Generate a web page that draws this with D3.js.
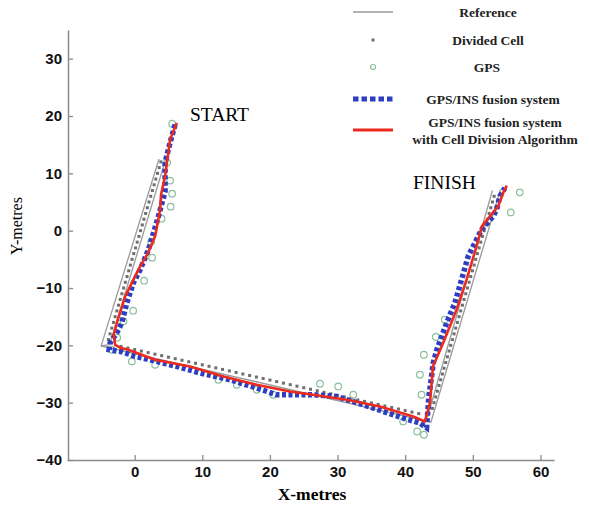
<!DOCTYPE html>
<html><head><meta charset="utf-8">
<script src="https://cdn.jsdelivr.net/npm/d3@7"></script>
<style>
body{margin:0;background:#fff;}
svg{display:block;}
</style></head>
<body>
<svg id="chart" width="589" height="506"></svg>
<script>
// ---- data ----
const xTicks = [0, 10, 20, 30, 40, 50, 60];
const yTicks = [-40, -30, -20, -10, 0, 10, 20, 30];

// Reference (gray band outlines)
const refOuterX = [3.6, -4.95, 43.8, 54.1];
const refOuterY = [12.5, -20.1, -33.4, 7.2];
const refInnerStartX = [4.6, -3.7, -4.95];
const refInnerStartY = [12.5, -19.9, -20.1];
const refInnerFinishX = [43.3, 52.9];
const refInnerFinishY = [-32.5, 7.0];

// Divided cells
const cellX = [-3.88,-3.63,-3.38,-3.13,-2.88,-2.63,-2.38,-2.13,-1.88,-1.63,-1.38,-1.13,-0.88,-0.63,-0.38,-0.13,0.13,0.38,0.63,0.88,1.13,1.38,1.63,1.88,2.13,2.38,2.63,2.88,3.13,3.38,3.63,3.88,
  -2,-1,0,1,2,3,4,5,6,7,8,9,10,11,12,13,14,15,16,17,18,19,20,21,22,23,24,25,26,27,28,29,30,31,32,33,34,35,36,37,38,39,40,41,42,
  44.02,44.26,44.51,44.76,45.0,45.25,45.5,45.74,45.99,46.24,46.49,46.73,46.98,47.22,47.47,47.72,47.96,48.21,48.46,48.7,48.95,49.2,49.45,49.69,49.94,50.19,50.43,50.68,50.93,51.17,51.42,51.67,51.91,52.16,52.41,52.66,52.9,53.15];
const cellY = [-19,-18,-17,-16,-15,-14,-13,-12,-11,-10,-9,-8,-7,-6,-5,-4,-3,-2,-1,0,1,2,3,4,5,6,7,8,9,10,11,12,
  -20.2,-20.47,-20.74,-21.0,-21.27,-21.54,-21.8,-22.07,-22.33,-22.6,-22.87,-23.13,-23.4,-23.66,-23.93,-24.2,-24.46,-24.73,-25.0,-25.26,-25.53,-25.79,-26.06,-26.33,-26.59,-26.86,-27.12,-27.39,-27.66,-27.92,-28.19,-28.45,-28.72,-28.99,-29.25,-29.52,-29.78,-30.05,-30.32,-30.58,-30.85,-31.11,-31.38,-31.65,-31.91,
  -31,-30,-29,-28,-27,-26,-25,-24,-23,-22,-21,-20,-19,-18,-17,-16,-15,-14,-13,-12,-11,-10,-9,-8,-7,-6,-5,-4,-3,-2,-1,0,1,2,3,4,5,6];

// GPS
const gpsX = [5.54,4.8,5.24,5.54,5.32,3.99,2.44,2.58,1.4,-0.22,-1.65,-2.58,-3.37,-0.41,3.03,12.38,15.1,18.05,20.5,27.4,30.1,32.32,39.7,42.17,42.42,41.77,42.76,42.76,44.53,45.86,55.61,56.94];
const gpsY = [18.67,11.87,8.73,6.46,4.19,2.09,-1.92,-4.71,-8.73,-13.96,-15.8,-18.67,-20.77,-22.8,-23.39,-26.0,-26.88,-27.75,-28.62,-26.7,-27.17,-28.62,-33.28,-25.13,-28.62,-35.03,-35.6,-21.64,-18.55,-15.53,3.19,6.68];

// GPS/INS fusion system
const insX = [5.98,5.24,4.5,4.5,3.52,2.04,0.81,-0.18,-1.15,-1.89,-2.63,-3.62,-3.77,-1.89,-0.18,3.28,6.23,9.67,14.1,18.05,21.0,26.41,29.87,33.8,39.7,42.17,43.16,43.5,43.9,44.14,44.68,46.12,47.34,48.33,49.31,50.04,51.29,53.0,53.5,54.0,54.74];
const insY = [18.5,15.36,11.87,6.86,2.5,-3.32,-6.81,-9.08,-12.57,-16.06,-17.8,-19.55,-20.77,-21.12,-21.82,-22.81,-23.68,-24.83,-26.0,-27.45,-28.62,-28.62,-28.92,-30.37,-32.69,-33.56,-34.38,-28.92,-25.43,-23.09,-20.77,-16.11,-12.62,-8.55,-4.49,-2.74,0.17,2.5,3.66,5.99,7.45];

// GPS/INS fusion system with Cell Division Algorithm
const cdaX = [6.23,5.24,4.5,3.9,3.77,3.03,1.85,0.81,-1.4,-2.63,-3.1,-2.88,-2.14,-0.92,3.03,8.2,13.12,18.05,22.97,26.41,31.34,36.26,41.18,42.91,43.65,43.94,44.1,45.61,47.59,49.07,50.55,51.33,52.51,53.74,54.48,55.02];
const cdaY = [18.8,15.88,9.48,6.28,3.66,-0.99,-4.19,-6.23,-11.47,-16.1,-18.15,-19.9,-20.42,-20.77,-22.51,-23.68,-25.43,-26.88,-28.05,-28.62,-29.49,-30.66,-32.41,-33.28,-30.07,-26.26,-23.68,-19.6,-13.79,-8.55,-2.74,0.75,2.5,4.24,6.58,7.85];

const legendLabels = ["Reference", "Divided Cell", "GPS", "GPS/INS fusion system", "GPS/INS fusion system", "with Cell Division Algorithm"];

// ---- colours ----
const cGray = "#9a9a9a", cCell = "#6e6e6e", cGps = "#8cc09c", cBlue = "#2c3fc2", cRed = "#ec2a1e";
const serif = "'Liberation Serif','Times New Roman',serif";
const sans = "'Liberation Sans',Arial,sans-serif";

const svg = d3.select("#chart");
const x = d3.scaleLinear().domain([-10, 62]).range([67, 554]);
const y = d3.scaleLinear().domain([-40, 35]).range([460, 30]);

// axes
const gx = svg.append("g").attr("transform", "translate(0,460)")
  .call(d3.axisBottom(x).tickValues(xTicks).tickSizeInner(-5).tickSizeOuter(0).tickPadding(6));
const gy = svg.append("g").attr("transform", "translate(68,0)")
  .call(d3.axisLeft(y).tickValues(yTicks).tickSizeInner(-5).tickSizeOuter(0).tickPadding(6));
[gx, gy].forEach(g => {
  g.select(".domain").attr("stroke", "#8a8a8a").attr("stroke-width", 1.5);
  g.selectAll(".tick line").attr("stroke", "#8a8a8a").attr("stroke-width", 1.3);
  g.selectAll(".tick text").attr("fill", "#111").style("font-family", sans).style("font-size", "15px").style("font-weight", "bold");
});

svg.append("text").attr("x", 312).attr("y", 500).attr("text-anchor", "middle")
  .style("font-family", serif).style("font-size", "17.5px").style("font-weight", "bold").text("X-metres");
svg.append("text").attr("transform", "translate(22,226) rotate(-90)").attr("text-anchor", "middle")
  .style("font-family", serif).style("font-size", "16px").text("Y-metres");

const zip = (xs, ys) => xs.map((v, i) => [v, ys[i]]);
const line = d3.line().x(d => x(d[0])).y(d => y(d[1]));

// reference
[[refOuterX, refOuterY], [refInnerStartX, refInnerStartY], [refInnerFinishX, refInnerFinishY]].forEach(([xs, ys]) => {
  svg.append("path").attr("d", line(zip(xs, ys))).attr("fill", "none").attr("stroke", cGray).attr("stroke-width", 1.3);
});

// divided cells
svg.append("g").selectAll("rect").data(zip(cellX, cellY)).join("rect")
  .attr("x", d => x(d[0]) - 1.5).attr("y", d => y(d[1]) - 1.5).attr("width", 3).attr("height", 3)
  .attr("fill", cCell);

// GPS
svg.append("g").selectAll("circle").data(zip(gpsX, gpsY)).join("circle")
  .attr("cx", d => x(d[0])).attr("cy", d => y(d[1])).attr("r", 3.3)
  .attr("fill", "none").attr("stroke", cGps).attr("stroke-width", 1.2);

// GPS/INS
svg.append("path").attr("d", line(zip(insX, insY))).attr("fill", "none")
  .attr("stroke", cBlue).attr("stroke-width", 5.5).attr("stroke-dasharray", "4,2.5");

// CDA
svg.append("path").attr("d", line(zip(cdaX, cdaY))).attr("fill", "none")
  .attr("stroke", cRed).attr("stroke-width", 2.6).attr("stroke-linejoin", "round");

// annotations
svg.append("text").attr("x", 190).attr("y", 121).style("font-family", serif).style("font-size", "19.5px").text("START");
svg.append("text").attr("x", 413).attr("y", 189).style("font-family", serif).style("font-size", "19.5px").text("FINISH");

// legend
const lg = svg.append("g");
const lx0 = 353, lx1 = 393;
lg.append("line").attr("x1", lx0).attr("x2", lx1).attr("y1", 12).attr("y2", 12).attr("stroke", cGray).attr("stroke-width", 1.3);
lg.append("rect").attr("x", 371.5).attr("y", 38.5).attr("width", 3).attr("height", 3).attr("fill", cCell);
lg.append("circle").attr("cx", 373).attr("cy", 67).attr("r", 2.5).attr("fill", "none").attr("stroke", cGps).attr("stroke-width", 1.2);
lg.append("line").attr("x1", lx0).attr("x2", lx1).attr("y1", 99).attr("y2", 99).attr("stroke", cBlue).attr("stroke-width", 5).attr("stroke-dasharray", "5.5,3");
lg.append("line").attr("x1", lx0).attr("x2", lx1).attr("y1", 130).attr("y2", 130).attr("stroke", cRed).attr("stroke-width", 3);
const lys = [12, 40, 67, 99, 122, 139];
const lxs = [488, 488, 487, 493, 495, 495];
legendLabels.forEach((t, i) => {
  lg.append("text").attr("x", lxs[i]).attr("y", lys[i]).attr("dy", "0.35em").attr("text-anchor", "middle")
    .style("font-family", serif).style("font-size", "13.5px").style("font-weight", "bold").attr("fill", "#222").text(t);
});
</script>
</body></html>
